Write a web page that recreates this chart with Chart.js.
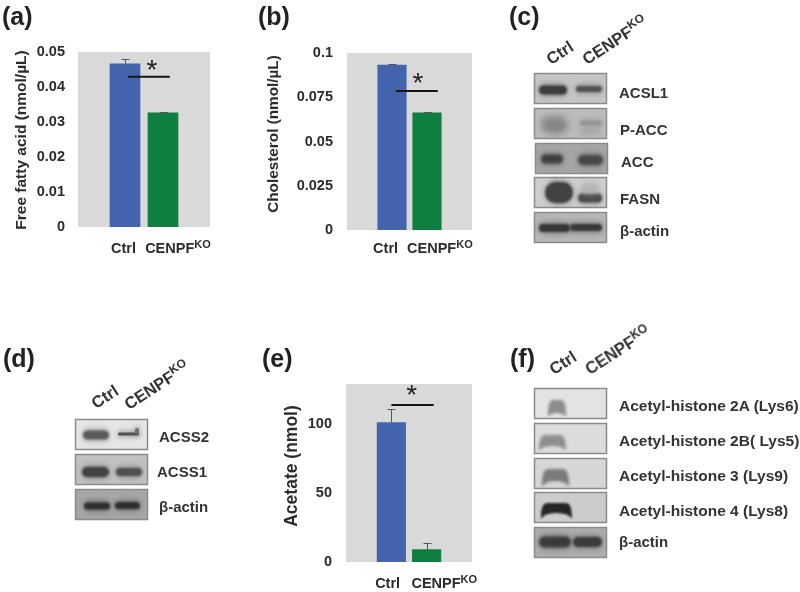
<!DOCTYPE html>
<html>
<head>
<meta charset="utf-8">
<script src="https://cdn.jsdelivr.net/npm/chart.js@4"></script>
<style>
  html, body { margin: 0; padding: 0; background: #fff; }
  #page { position: relative; width: 800px; height: 592px; overflow: hidden; font-family: "Liberation Sans", Arial, sans-serif; color: #2b2b2b; }
  canvas { position: absolute; left: 0; top: 0; }
  .tag { position: absolute; font-size: 25px; font-weight: bold; line-height: 28px; color: #222; }
  .lane { position: absolute; font-size: 16.5px; font-weight: bold; line-height: 16px; white-space: nowrap; color: #333; transform-origin: 0 100%; transform: rotate(-33deg); }
  .lane sup { font-size: 12px; line-height: 0; }
  .prot { position: absolute; font-size: 15px; font-weight: bold; line-height: 18px; white-space: nowrap; color: #333; }
  .prot.long { font-size: 15.5px; }
</style>
</head>
<body>
<div id="page">
  <canvas id="blots" width="800" height="592"></canvas>
  <canvas id="chartA" width="240" height="270"></canvas>
  <canvas id="chartB" width="260" height="270" style="left:250px"></canvas>
  <canvas id="chartE" width="260" height="262" style="left:250px;top:330px"></canvas>
</div>
<script>
// values
const categories = ['Ctrl', 'CENPF'];
const categorySup = ['', 'KO'];

const fattyAcid = [0.0466, 0.0326];
const fattyAcidErrTop = [0.048, 0.0329];
const fattyAcidTicks = [0, 0.01, 0.02, 0.03, 0.04, 0.05];

const cholesterol = [0.0932, 0.0662];
const cholesterolErrTop = [0.0938, 0.0667];
const cholesterolTicks = [0, 0.025, 0.05, 0.075, 0.1];

const acetate = [101, 9];
const acetateErrTop = [111, 13.5];
const acetateTicks = [0, 50, 100];

// x from, x to, y of the significance line, x of the star
const sigFattyAcid = [0.08, 1.18, 0.0429, 0.71];
const sigCholesterol = [0.11, 1.31, 0.0785, 0.74];
const sigAcetate = [0, 1.2, 113.8, 0.58];

const barColors = ['#4464ae', '#0f7f41'];

// Extra drawing on top of the bars: error bars, star, x labels, y title
const panelExtras = {
    id: 'panelExtras',
    beforeDraw(chart) {
        const a = chart.chartArea;
        chart.ctx.fillStyle = '#d9d9d9';
        chart.ctx.fillRect(a.left, a.top, a.right - a.left, a.bottom - a.top);
    },
    afterDatasetsDraw(chart) {
        const ctx = chart.ctx, o = chart.options.plugins.panelExtras;
        const x = chart.scales.x, y = chart.scales.y;
        ctx.save();

        // error bars
        ctx.strokeStyle = '#555';
        ctx.lineWidth = 1;
        o.errTop.forEach(function(top, i) {
            const px = Math.round(x.getPixelForValue(i)) + 0.5;
            const yTop = Math.round(y.getPixelForValue(top)) + 0.5;
            ctx.beginPath();
            ctx.moveTo(px, y.getPixelForValue(o.values[i]));
            ctx.lineTo(px, yTop);
            ctx.moveTo(px - 4, yTop);
            ctx.lineTo(px + 4, yTop);
            ctx.stroke();
        });

        // significance line and star
        const sigY = y.getPixelForValue(o.sig[2]);
        ctx.strokeStyle = '#161616';
        ctx.lineWidth = 2;
        ctx.beginPath();
        ctx.moveTo(x.getPixelForValue(o.sig[0]), sigY);
        ctx.lineTo(x.getPixelForValue(o.sig[1]), sigY);
        ctx.stroke();
        ctx.fillStyle = '#222';
        ctx.font = '28px "Liberation Sans"';
        ctx.textAlign = 'center';
        ctx.textBaseline = 'alphabetic';
        ctx.fillText('*', x.getPixelForValue(o.sig[3]), sigY + o.starDy);

        // x labels with the KO superscript
        ctx.textAlign = 'left';
        ctx.fillStyle = '#2b2b2b';
        categories.forEach(function(name, i) {
            const px = x.getPixelForValue(o.labelX[i]);
            ctx.font = 'bold 14.5px "Liberation Sans"';
            ctx.fillText(name, px, o.labelY);
            const w = ctx.measureText(name).width;
            if (categorySup[i]) {
                ctx.font = 'bold 11px "Liberation Sans"';
                ctx.fillText(categorySup[i], px + w, o.labelY - 5);
            }
        });

        // y title
        ctx.translate(o.titleX, o.titleY);
        ctx.rotate(-Math.PI / 2);
        ctx.textAlign = 'center';
        ctx.font = 'bold ' + o.titleSize + 'px "Liberation Sans"';
        ctx.fillText(o.title, 0, 5);
        ctx.restore();
    }
};

function makeBarPanel(id, cfg) {
    return new Chart(document.getElementById(id), {
        type: 'bar',
        data: {
            datasets: [{
                data: cfg.values.map(function(v, i) { return { x: i, y: v }; }),
                backgroundColor: barColors,
                barThickness: cfg.barWidth
            }]
        },
        options: {
            responsive: false,
            animation: false,
            layout: { padding: cfg.padding },
            plugins: {
                legend: { display: false },
                tooltip: { enabled: false },
                panelExtras: cfg
            },
            scales: {
                x: { type: 'linear', display: false, offset: false, min: cfg.xRange[0], max: cfg.xRange[1] },
                y: {
                    min: 0,
                    max: cfg.yMax,
                    afterFit: function(scale) { scale.width = cfg.axisWidth; },
                    afterBuildTicks: function(scale) { scale.ticks = cfg.ticks.map(function(v) { return { value: v }; }); },
                    grid: { display: false, drawTicks: false },
                    border: { display: false },
                    ticks: {
                        padding: cfg.tickPad,
                        color: '#2b2b2b',
                        font: { family: '"Liberation Sans"', size: 14.5, weight: 'bold' },
                        callback: function(v) { return String(v); }
                    }
                }
            }
        },
        plugins: [panelExtras]
    });
}

makeBarPanel('chartA', {
    values: fattyAcid, errTop: fattyAcidErrTop, ticks: fattyAcidTicks, sig: sigFattyAcid,
    title: 'Free fatty acid (nmol/\u00b5L)', titleX: 21, titleY: 140, titleSize: 15.5,
    yMax: 0.05, xRange: [-1.237, 2.237], barWidth: 30, axisWidth: 78, tickPad: 13,
    padding: { top: 52, bottom: 43, right: 30 },
    labelX: [-0.37, 0.53], labelY: 253, starDy: 2
});
makeBarPanel('chartB', {
    values: cholesterol, errTop: cholesterolErrTop, ticks: cholesterolTicks, sig: sigCholesterol,
    title: 'Cholesterol (nmol/\u00b5L)', titleX: 22.5, titleY: 134, titleSize: 15.3,
    yMax: 0.1, xRange: [-1.286, 2.286], barWidth: 28.5, axisWidth: 97, tickPad: 14,
    padding: { top: 53, bottom: 40, right: 38 },
    labelX: [-0.54, 0.43], labelY: 253, starDy: 1
});
makeBarPanel('chartE', {
    values: acetate, errTop: acetateErrTop, ticks: acetateTicks, sig: sigAcetate,
    title: 'Acetate (nmol)', titleX: 42, titleY: 136, titleSize: 17.5,
    yMax: 129, xRange: [-1.286, 2.286], barWidth: 28.5, axisWidth: 96, tickPad: 14,
    padding: { top: 54, bottom: 30, right: 38 },
    labelX: [-0.46, 0.57], labelY: 258, starDy: -1
});

// Panel tags, lane headers and protein names
const page = document.getElementById('page');
function addText(cls, html, left, top) {
    const d = document.createElement('div');
    d.className = cls;
    d.innerHTML = html;
    d.style.left = left + 'px';
    d.style.top = top + 'px';
    page.appendChild(d);
}
[['(a)', 2, 2], ['(b)', 258, 2], ['(c)', 509, 2], ['(d)', 3, 344], ['(e)', 262, 344], ['(f)', 510, 344]]
    .forEach(function(t) { addText('tag', t[0], t[1], t[2]); });
[[552, 51], [588, 51], [97, 395], [130, 396], [555, 361], [591, 361]].forEach(function(p, i) {
    addText('lane', i % 2 ? 'CENPF<sup>KO</sup>' : 'Ctrl', p[0], p[1]);
});
[['ACSL1', 619, 84], ['P-ACC', 620, 121], ['ACC', 621, 153], ['FASN', 620, 190], ['\u03b2-actin', 620, 222],
 ['ACSS2', 159, 428], ['ACSS1', 157, 463], ['\u03b2-actin', 159, 498], ['\u03b2-actin', 619, 533]]
    .forEach(function(t) { addText('prot', t[0], t[1], t[2]); });
[['Acetyl-histone 2A (Lys6)', 619, 397], ['Acetyl-histone 2B( Lys5)', 619, 432], ['Acetyl-histone 3 (Lys9)', 619, 467],
 ['Acetyl-histone 4 (Lys8)', 619, 502]]
    .forEach(function(t) { addText('prot long', t[0], t[1], t[2]); });

// Western blot strips are photographs in the original, painted here as blurred shapes
const bctx = document.getElementById('blots').getContext('2d');
function frame(x, y, bg) {
    bctx.filter = 'none';
    bctx.fillStyle = bg;
    bctx.fillRect(x, y, 73, 31);
    bctx.strokeStyle = '#8b8b8b';
    bctx.lineWidth = 1.5;
    bctx.strokeRect(x + 0.5, y + 0.5, 72, 30);
}
function band(x1, x2, cy, h, color, blur) {
    bctx.save();
    // soft halo first, then the dense core
    bctx.globalAlpha = 0.35;
    bctx.filter = 'blur(' + ((blur || 1.2) + 1.5) + 'px)';
    bctx.fillStyle = color;
    bctx.beginPath();
    bctx.roundRect(x1 - 1, cy - h / 2 - 2.5, x2 - x1 + 2, h + 5, (h + 5) / 2);
    bctx.fill();
    bctx.globalAlpha = 1;
    bctx.filter = 'blur(' + (blur || 1.2) + 'px)';
    bctx.beginPath();
    bctx.roundRect(x1, cy - h / 2, x2 - x1, h, h / 2);
    bctx.fill();
    bctx.restore();
}
function arch(x1, x2, yTop, yBot, color, blur, thick) {
    const c = Math.min(8, (x2 - x1) / 3);
    bctx.save();
    bctx.filter = 'blur(' + blur + 'px)';
    bctx.fillStyle = color;
    bctx.beginPath();
    bctx.moveTo(x1, yBot);
    bctx.bezierCurveTo(x1, yTop, x1 + c / 2, yTop, x1 + c, yTop);
    bctx.lineTo(x2 - c, yTop);
    bctx.bezierCurveTo(x2 - c / 2, yTop, x2, yTop, x2, yBot);
    bctx.quadraticCurveTo(x2 - 3, yBot - thick, (x1 + x2) / 2, yBot - thick);
    bctx.quadraticCurveTo(x1 + 3, yBot - thick, x1, yBot);
    bctx.fill();
    bctx.restore();
}

// panel c
frame(534, 73, '#c6c6c6');
band(539, 567, 90, 9, '#3c3c3c'); band(576, 602, 89, 6, '#505050');
frame(534, 108, '#bcbcbc');
band(542, 567, 125, 15, '#858585', 3); band(580, 602, 123, 5, '#929292', 1.5); band(581, 600, 131, 6, '#a6a6a6', 2);
frame(535, 143, '#a6a6a6');
band(541, 563, 159, 9, '#3f3f3f', 1.5); band(578, 603, 160, 10, '#464646', 1.5);
frame(534, 177, '#cecece');
band(545, 573, 192.5, 21, '#424242', 1); band(578, 602, 198, 9, '#4c4c4c'); band(582, 598, 188, 9, '#b4b4b4', 2);
frame(534, 212, '#b6b6b6');
band(539, 570, 228, 8, '#363636'); band(570, 602, 227.5, 7, '#383838');

// panel d
frame(75, 419, '#e6e6e6');
band(83, 109, 435, 9, '#5a5a5a'); band(118, 139, 434, 3, '#505050', 0.7); band(135, 139, 431, 6, '#707070', 0.7);
frame(75, 454, '#c2c2c2');
band(82, 109, 472, 10, '#424242'); band(116, 142, 472, 8, '#4e4e4e');
frame(75, 489, '#a6a6a6');
band(84, 110, 506, 7, '#2f2f2f'); band(115, 140, 505.5, 7, '#2f2f2f');

// panel f
frame(534, 388, '#e3e3e3');
arch(548, 566, 400, 417, '#8c8c8c', 1.5, 4);
frame(534, 423, '#dcdcdc');
arch(539, 566, 435, 451, '#8e8e8e', 1.5, 5);
frame(534, 458, '#d6d6d6');
arch(542, 569, 469, 487, '#7a7a7a', 1.5, 6);
frame(534, 492, '#cccccc');
arch(541, 572, 503, 519, '#262626', 1, 6);
frame(534, 527, '#aeaeae');
band(539, 571, 542, 11, '#3a3a3a', 1.5); band(573, 602, 542, 10, '#3c3c3c', 1.2);
</script>
</body>
</html>
